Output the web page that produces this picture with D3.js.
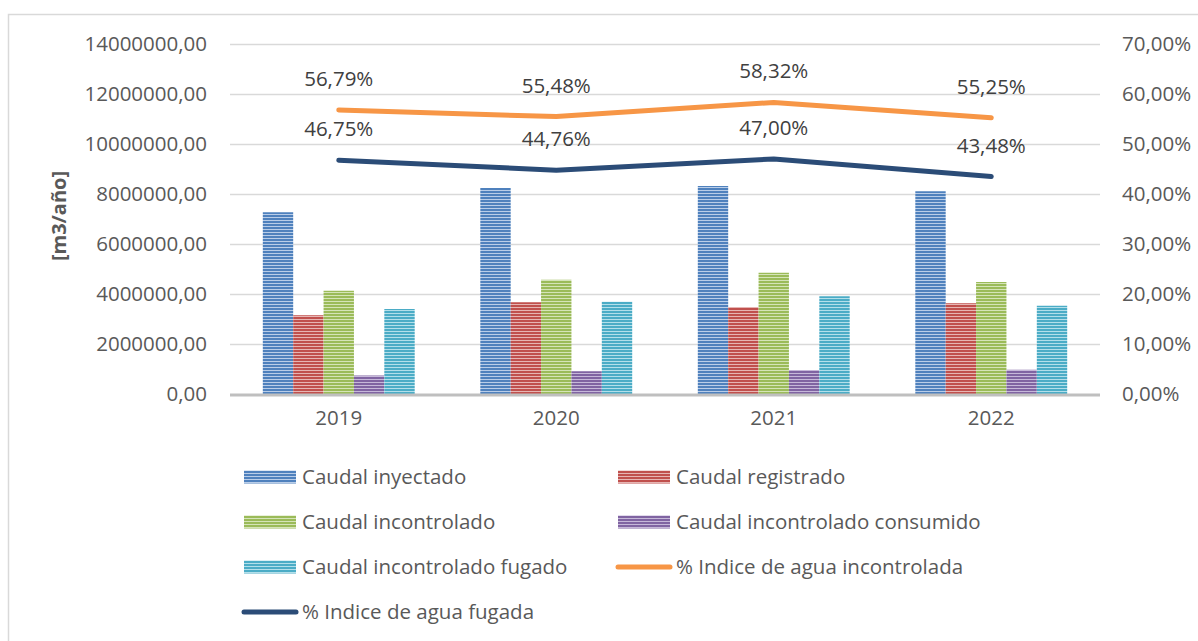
<!DOCTYPE html>
<html>
<head>
<meta charset="utf-8">
<script src="https://cdn.jsdelivr.net/npm/d3@7"></script>
<style>
  body { margin: 0; background: #fff; }
  svg { display: block; font-family: 'Open Sans', sans-serif; }
</style>
</head>
<body>
<div id="chart"></div>
<script>
const years = ['2019', '2020', '2021', '2022'];

const barNames = ['Caudal inyectado', 'Caudal registrado', 'Caudal incontrolado', 'Caudal incontrolado consumido', 'Caudal incontrolado fugado'];
const inyectado   = [7270000, 8240000, 8320000, 8110000];
const registrado  = [3150000, 3670000, 3480000, 3630000];
const incontrol   = [4130000, 4570000, 4850000, 4480000];
const consumido   = [740000, 910000, 960000, 970000];
const fugado      = [3400000, 3690000, 3910000, 3530000];

const pctIncontrolada = [56.79, 55.48, 58.32, 55.25];
const pctFugada       = [46.75, 44.76, 47.00, 43.48];

const leftTicks  = [0, 2000000, 4000000, 6000000, 8000000, 10000000, 12000000, 14000000];
const rightTicks = [0, 10, 20, 30, 40, 50, 60, 70];

const barColors  = ['#4F81BD', '#C0504D', '#9BBB59', '#8064A2', '#4BACC6'];
const barLight   = ['#b9cde8', '#e6b5b3', '#d5e4b8', '#c6b8d9', '#b3dfea'];
const lineColors = ['#F79646', '#2B4C77'];

const W = 1198, H = 641;
const margin = { top: 44, right: 98, bottom: 247, left: 230 };
const iw = W - margin.left - margin.right;
const ih = H - margin.top - margin.bottom;

const svg = d3.select('#chart').append('svg').attr('width', W).attr('height', H);
const defs = svg.append('defs');

// striped fills
barColors.forEach((c, i) => {
  const p = defs.append('pattern')
    .attr('id', 'stripe' + i)
    .attr('patternUnits', 'userSpaceOnUse')
    .attr('width', 8).attr('height', 3);
  p.append('rect').attr('width', 8).attr('height', 3).attr('fill', c);
  p.append('rect').attr('y', 2).attr('width', 8).attr('height', 1).attr('fill', barLight[i]);
});

// outer frame
svg.append('rect')
  .attr('x', 8.5).attr('y', 14.5).attr('width', 1300).attr('height', 800)
  .attr('fill', 'none').attr('stroke', '#d9d9d9').attr('stroke-width', 1.5);

const g = svg.append('g').attr('transform', `translate(${margin.left},${margin.top})`);

const x0 = d3.scaleBand().domain(years).range([0, iw]).padding(0);
const x1 = d3.scaleBand().domain(d3.range(barNames.length)).range([0, x0.bandwidth()])
  .paddingInner(0).paddingOuter(1.08);
const y = d3.scaleLinear().domain([0, 14000000]).range([ih, 0]);
const yr = d3.scaleLinear().domain([0, 70]).range([ih, 0]);

const fmtNum = v => d3.format('.2f')(v).replace('.', ',');
const fmtPct = v => d3.format('.2f')(v).replace('.', ',') + '%';

// grid
g.append('g').selectAll('line')
  .data(leftTicks.filter(d => d > 0)).enter().append('line')
  .attr('x1', 0).attr('x2', iw)
  .attr('y1', d => Math.round(y(d)) + 0.5).attr('y2', d => Math.round(y(d)) + 0.5)
  .attr('stroke', '#d9d9d9').attr('stroke-width', 1.5);

// left axis
const yAxis = g.append('g').call(d3.axisLeft(y).tickValues(leftTicks).tickFormat(fmtNum).tickSize(0).tickPadding(23));
yAxis.select('.domain').remove();
yAxis.selectAll('text').attr('fill', '#595959').attr('font-size', '20.5px').attr('font-family', "'Open Sans', sans-serif");

// right axis
const yrAxis = g.append('g').attr('transform', `translate(${iw},0)`)
  .call(d3.axisRight(yr).tickValues(rightTicks).tickFormat(d => fmtPct(d)).tickSize(0).tickPadding(22));
yrAxis.select('.domain').remove();
yrAxis.selectAll('text').attr('fill', '#595959').attr('font-size', '20.5px').attr('font-family', "'Open Sans', sans-serif");

// bars
const barSeries = [inyectado, registrado, incontrol, consumido, fugado];
const groups = g.append('g').selectAll('g')
  .data(years).enter().append('g')
  .attr('transform', d => `translate(${x0(d)},0)`);

groups.selectAll('rect')
  .data((yr_, yi) => barSeries.map((s, si) => ({ si, v: s[yi] })))
  .enter().append('rect')
  .attr('x', d => x1(d.si))
  .attr('width', x1.bandwidth())
  .attr('y', d => y(d.v))
  .attr('height', d => ih - y(d.v))
  .attr('fill', d => `url(#stripe${d.si})`);

// baseline
g.append('line')
  .attr('x1', 0).attr('x2', iw).attr('y1', ih + 1).attr('y2', ih + 1)
  .attr('stroke', '#bfbfbf').attr('stroke-width', 3);

// x axis labels
const xAxis = g.append('g').attr('transform', `translate(0,${ih})`)
  .call(d3.axisBottom(x0).tickSize(0).tickPadding(16));
xAxis.select('.domain').remove();
xAxis.selectAll('text').attr('fill', '#595959').attr('font-size', '20.5px').attr('font-family', "'Open Sans', sans-serif");

// lines
const line = d3.line().x((d, i) => x0(years[i]) + x0.bandwidth() / 2).y(d => yr(d));
[pctIncontrolada, pctFugada].forEach((s, k) => {
  g.append('path').datum(s)
    .attr('fill', 'none').attr('stroke', lineColors[k]).attr('stroke-width', 5)
    .attr('stroke-linecap', 'round').attr('stroke-linejoin', 'round')
    .attr('d', line);
  g.append('g').selectAll('text').data(s).enter().append('text')
    .attr('x', (d, i) => x0(years[i]) + x0.bandwidth() / 2)
    .attr('y', d => yr(d) - 24)
    .attr('text-anchor', 'middle')
    .attr('fill', '#404040').attr('font-size', '20.5px')
    .text(d => fmtPct(d));
});

// y title
svg.append('text')
  .attr('transform', `translate(66,${margin.top + ih / 2 - 3}) rotate(-90)`)
  .attr('text-anchor', 'middle')
  .attr('fill', '#595959').attr('font-size', '20px').attr('font-weight', 'bold')
  .text('[m3/año]');

// legend
const legendItems = barNames.map((n, i) => ({ name: n, type: 'bar', i }))
  .concat([
    { name: '% Indice de agua incontrolada', type: 'line', i: 0 },
    { name: '% Indice de agua fugada', type: 'line', i: 1 }
  ]);
const colX = [244, 618];
const leg = svg.append('g');
legendItems.forEach((d, k) => {
  const lx = colX[k % 2];
  const ly = 477 + Math.floor(k / 2) * 45;
  const it = leg.append('g').attr('transform', `translate(${lx},${ly})`);
  if (d.type === 'bar') {
    it.append('rect').attr('x', 0).attr('y', -6.5).attr('width', 52).attr('height', 13)
      .attr('fill', `url(#stripe${d.i})`);
  } else {
    it.append('line').attr('x1', 0).attr('x2', 52).attr('y1', 0).attr('y2', 0)
      .attr('stroke', lineColors[d.i]).attr('stroke-width', 5).attr('stroke-linecap', 'round');
  }
  it.append('text').attr('x', 58).attr('y', 0).attr('dy', '0.35em')
    .attr('fill', '#595959').attr('font-size', '20.5px')
    .text(d.name);
});
</script>
</body>
</html>
